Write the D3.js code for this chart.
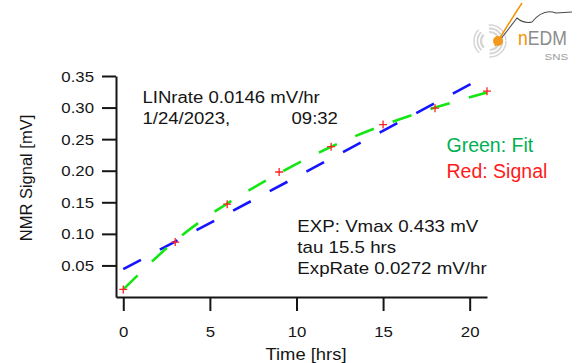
<!DOCTYPE html>
<html>
<head>
<meta charset="utf-8">
<script src="https://cdn.jsdelivr.net/npm/d3@7"></script>
<style>
  html, body { margin: 0; padding: 0; background: #fff; }
  svg { display: block; font-family: 'Liberation Sans', Arial, sans-serif; }
</style>
</head>
<body>
<div id="chart"></div>
<script>
// measured data (hours, mV)
const times = [0, 3, 6, 9, 12, 15, 18, 21]
const signal = [0.012, 0.087, 0.147, 0.198, 0.238, 0.273, 0.299, 0.326]
const fitValues = [0.012, 0.089, 0.148, 0.196, 0.238, 0.272, 0.300, 0.324]
const linTimes = [0, 21]
const linValues = [0.044, 0.351]
const xTicks = [0, 5, 10, 15, 20]
const yTicks = [0.05, 0.10, 0.15, 0.20, 0.25, 0.30, 0.35]

const width = 578
const height = 363

const svg = d3
  .select('#chart')
  .append('svg')
  .attr('width', width)
  .attr('height', height)
  .attr('viewBox', [0, 0, width, height])

const x = d3.scaleLinear().domain([-0.42, 21.0]).range([116, 487])
const y = d3.scaleLinear().domain([0, 0.35]).range([297, 76])

const ink = '#151515'
const sx = 1.2 // the reference text is drawn a bit wide

// x axis
svg
  .append('g')
  .attr('transform', `translate(0,${y(0)})`)
  .call(d3.axisBottom(x).tickValues(xTicks).tickSize(14).tickSizeOuter(0).tickFormat(d3.format('d')))
  .call((g) => g.select('.domain').attr('stroke', ink).attr('stroke-width', 2))
  .call((g) => g.selectAll('.tick line').attr('stroke', ink).attr('stroke-width', 2))
  .call((g) =>
    g
      .selectAll('.tick text')
      .attr('fill', ink)
      .attr('font-size', 14)
      .attr('y', 40)
      .attr('dy', null)
      .attr('transform', `scale(${sx},1)`)
  )

// y axis
svg
  .append('g')
  .attr('transform', `translate(${x.range()[0]},0)`)
  .call(d3.axisLeft(y).tickValues(yTicks).tickSize(14).tickSizeOuter(0).tickFormat(d3.format('.2f')))
  .call((g) => g.select('.domain').attr('stroke', ink).attr('stroke-width', 2))
  .call((g) => g.selectAll('.tick line').attr('stroke', ink).attr('stroke-width', 2))
  .call((g) =>
    g
      .selectAll('.tick text')
      .attr('fill', ink)
      .attr('font-size', 14)
      .attr('x', -22 / sx)
      .attr('dy', '0.36em')
      .attr('transform', `scale(${sx},1)`)
  )

// axis titles
svg
  .append('text')
  .attr('transform', 'translate(306,360) scale(1.15,1)')
  .attr('text-anchor', 'middle')
  .attr('font-size', 16)
  .attr('fill', ink)
  .text('Time [hrs]')

svg
  .append('text')
  .attr('transform', 'translate(31.5,178) rotate(-90)')
  .attr('text-anchor', 'middle')
  .attr('font-size', 16.5)
  .attr('fill', ink)
  .text('NMR Signal [mV]')

// linear fit (blue) and exponential fit (green)
const linLine = d3
  .line()
  .x((d, i) => x(linTimes[i]))
  .y((d) => y(d))

svg
  .append('path')
  .attr('d', linLine(linValues))
  .attr('fill', 'none')
  .attr('stroke', '#1414ff')
  .attr('stroke-width', 2.6)
  .attr('stroke-dasharray', '20,21.5')

const fitLine = d3
  .line()
  .x((d, i) => x(times[i]))
  .y((d) => y(d))
  .curve(d3.curveNatural)

svg
  .append('path')
  .attr('d', fitLine(fitValues))
  .attr('fill', 'none')
  .attr('stroke', '#14e614')
  .attr('stroke-width', 2.6)
  .attr('stroke-dasharray', '20,20')

// signal markers
svg
  .append('g')
  .attr('stroke', '#ff2222')
  .attr('stroke-width', 1.3)
  .selectAll()
  .data(signal)
  .join('path')
  .attr('d', (d, i) => {
    const cx = x(times[i])
    const cy = y(d)
    return `M${cx - 4},${cy}H${cx + 4}M${cx},${cy - 4}V${cy + 4}`
  })

// annotations
const note = (tx, ty, str, size, scale, color) =>
  svg
    .append('text')
    .attr('transform', `translate(${tx},${ty}) scale(${scale},1)`)
    .attr('font-size', size)
    .attr('fill', color || ink)
    .text(str)

note(142.5, 103, 'LINrate 0.0146 mV/hr', 16, 1.16)
note(142.5, 124, '1/24/2023,', 16, 1.16)
note(291.5, 124, '09:32', 16, 1.16)

note(297.3, 232, 'EXP: Vmax 0.433 mV', 16, 1.17)
note(297.3, 253, 'tau 15.5 hrs', 16, 1.17)
note(297.3, 273.5, 'ExpRate 0.0272 mV/hr', 16, 1.17)

note(446.5, 152, 'Green: Fit', 19.5, 1.0, '#00b050')
note(446.5, 178, 'Red: Signal', 19.5, 1.0, '#ff1a1a')

// nEDM SNS logo
const logo = svg.append('g').attr('class', 'logo')
;[9, 12.5, 16].forEach((r, i) => {
  logo
    .append('circle')
    .attr('cx', 490)
    .attr('cy', 41)
    .attr('r', r)
    .attr('fill', 'none')
    .attr('stroke', '#d4d4d4')
    .attr('stroke-width', 2.2 - i * 0.4)
    .attr('stroke-dasharray', `${r * 1.6},${r * 0.7}`)
})
logo
  .append('path')
  .attr('d', 'M495,46 Q507,26 522,3')
  .attr('fill', 'none')
  .attr('stroke', '#f39200')
  .attr('stroke-width', 1.4)
logo
  .append('path')
  .attr('d', 'M500,40 L517,18 Q524,24 532,22 Q543,8 556,13 L572,12')
  .attr('fill', 'none')
  .attr('stroke', '#4a4a4a')
  .attr('stroke-width', 1.1)
logo
  .append('circle')
  .attr('cx', 498)
  .attr('cy', 41)
  .attr('r', 5)
  .attr('fill', '#f39a1e')
logo
  .append('text')
  .attr('transform', 'translate(518,45) scale(0.88,1)')
  .attr('font-size', 20)
  .attr('fill', '#f39200')
  .text('n')
  .append('tspan')
  .attr('fill', '#8c8c8c')
  .text('EDM')
logo
  .append('text')
  .attr('transform', 'translate(568,60) scale(1.2,1)')
  .attr('text-anchor', 'end')
  .attr('font-size', 9.5)
  .attr('fill', '#9a9a9a')
  .text('SNS')
</script>
</body>
</html>
